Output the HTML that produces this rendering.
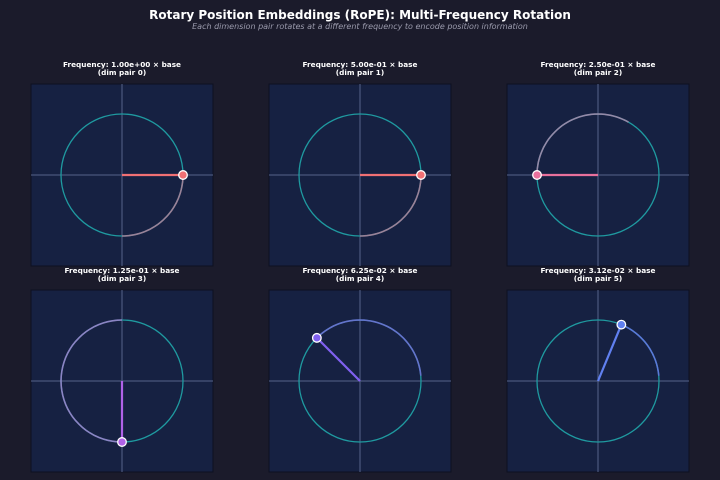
<!DOCTYPE html>
<html><head><meta charset="utf-8"><style>
body{margin:0;background:#1b1b2b;}
svg{display:block;font-family:"DejaVu Sans","Liberation Sans",sans-serif;}
</style></head><body>
<svg width="720" height="480" viewBox="0 0 720 480">
<rect width="720" height="480" fill="#1b1b2b"/>
<text x="360" y="19" text-anchor="middle" fill="#fff" font-size="12" font-weight="bold">Rotary Position Embeddings (RoPE): Multi-Frequency Rotation</text>
<text x="360" y="29" text-anchor="middle" fill="#9a9aac" font-size="8" font-style="italic">Each dimension pair rotates at a different frequency to encode position information</text>
<g id="p"></g>
</svg>
<script>
const P=[
 [122,175,"1.00e+00",0,0,-90,"#9a8298","#f07074"],
 [360,175,"5.00e-01",1,0,-90,"#9a8298","#f07074"],
 [598,175,"2.50e-01",2,180,60,"#948aa8","#e8709c"],
 [122,381,"1.25e-01",3,270,90,"#8c84c4","#b062e8"],
 [360,381,"6.25e-02",4,135,5,"#6474cc","#8060f0"],
 [598,381,"3.12e-02",5,67.5,5,"#5a7ad8","#6080f0"]];
let s="";const R=61;
for(const [cx,cy,f,i,a,b,tc,lc] of P){
 const x0=cx-91,y0=cy-91;
 s+=`<rect x="${x0}" y="${y0}" width="182" height="182" fill="#162142" stroke="#0e1020" stroke-width="1"/>`;
 s+=`<line x1="${x0}" y1="${cy}" x2="${x0+182}" y2="${cy}" stroke="#56648a" stroke-width="1"/><line x1="${cx}" y1="${y0}" x2="${cx}" y2="${y0+182}" stroke="#56648a" stroke-width="1"/>`;
 s+=`<circle cx="${cx}" cy="${cy}" r="${R}" fill="none" stroke="#1f9aa0" stroke-width="1.3"/>`;
 const pt=t=>[cx+R*Math.cos(t*Math.PI/180),cy-R*Math.sin(t*Math.PI/180)];
 let d="";const n=40;for(let k=0;k<=n;k++){const [x,y]=pt(a+(b-a)*k/n);d+=(k?"L":"M")+x.toFixed(1)+","+y.toFixed(1);}
 s+=`<path d="${d}" fill="none" stroke="${tc}" stroke-width="1.6"/>`;
 const [px,py]=pt(a);
 s+=`<line x1="${cx}" y1="${cy}" x2="${px}" y2="${py}" stroke="${lc}" stroke-width="2.2"/>`;
 s+=`<circle cx="${px}" cy="${py}" r="4.3" fill="${lc}" stroke="#fff" stroke-width="1.3"/>`;
 s+=`<text x="${cx}" y="${y0-17}" text-anchor="middle" fill="#fff" font-size="7.3" font-weight="bold">Frequency: ${f} × base</text>`;
 s+=`<text x="${cx}" y="${y0-9}" text-anchor="middle" fill="#fff" font-size="7.3" font-weight="bold">(dim pair ${i})</text>`;
}
document.getElementById("p").innerHTML=s;
</script>
</body></html>
